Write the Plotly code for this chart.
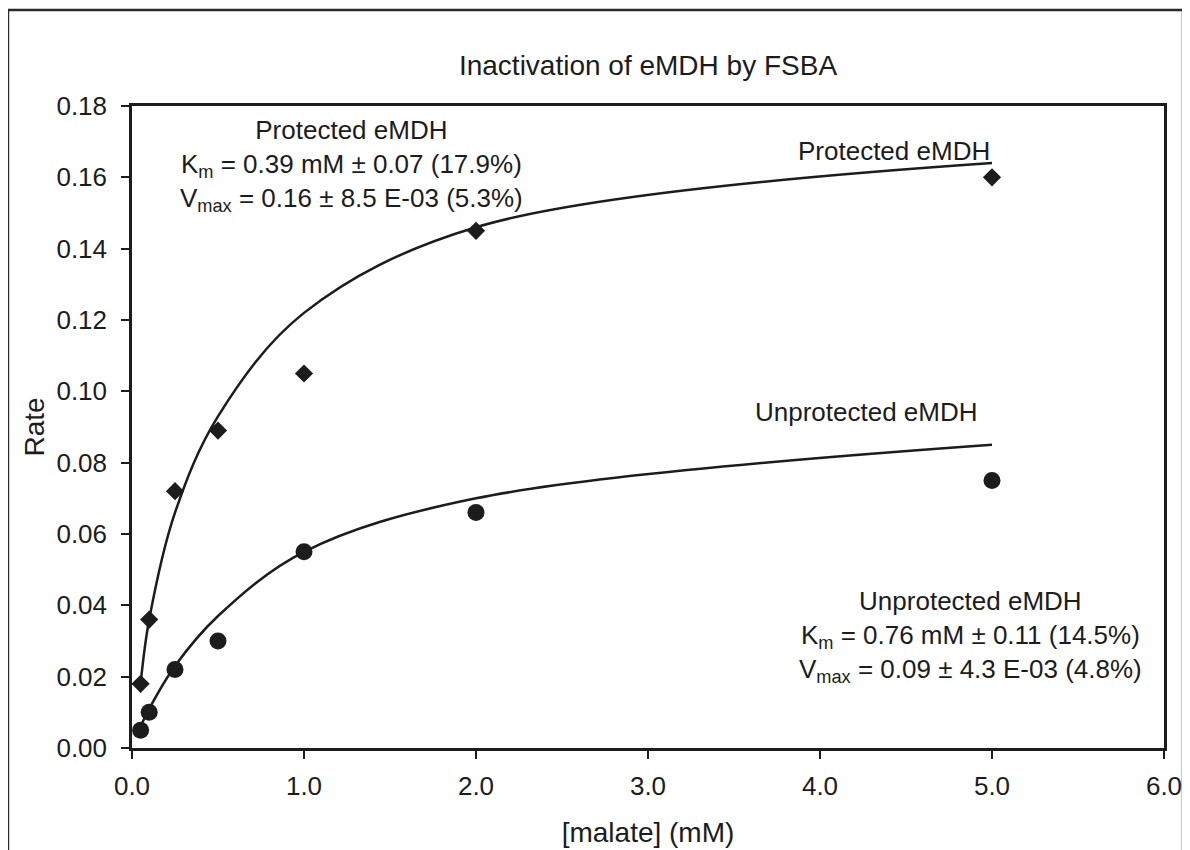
import plotly.graph_objects as go

# Data
malate = [0.05, 0.1, 0.25, 0.5, 1.0, 2.0, 5.0]
protected_rate = [0.018, 0.036, 0.072, 0.089, 0.105, 0.145, 0.160]
unprotected_rate = [0.005, 0.010, 0.022, 0.030, 0.055, 0.066, 0.075]
# fitted (Michaelis-Menten) curve values as drawn
protected_fit = [0.018, 0.036, 0.066, 0.093, 0.122, 0.146, 0.164]
unprotected_fit = [0.006, 0.011, 0.023, 0.037, 0.055, 0.070, 0.085]

x_ticks = [0, 1, 2, 3, 4, 5, 6]
y_ticks = [0.00, 0.02, 0.04, 0.06, 0.08, 0.10, 0.12, 0.14, 0.16, 0.18]

FONT = "Liberation Sans, Arial, sans-serif"
INK = "#1c1c1c"

fig = go.Figure()
fig.add_trace(go.Scatter(x=malate, y=protected_fit, mode="lines", line_shape="spline",
                         line=dict(color=INK, width=2.5), showlegend=False, name="Protected fit"))
fig.add_trace(go.Scatter(x=malate, y=unprotected_fit, mode="lines", line_shape="spline",
                         line=dict(color=INK, width=2.5), showlegend=False, name="Unprotected fit"))
fig.add_trace(go.Scatter(x=malate, y=protected_rate, mode="markers",
                         marker=dict(symbol="diamond", size=14, color=INK),
                         showlegend=False, name="Protected eMDH"))
fig.add_trace(go.Scatter(x=malate, y=unprotected_rate, mode="markers",
                         marker=dict(symbol="circle", size=17, color=INK),
                         showlegend=False, name="Unprotected eMDH"))

AFONT = dict(family=FONT, size=26, color=INK)
fig.add_annotation(x=1.279, y=0.1633, xref="x", yref="y",
                   text="Protected eMDH<br>K<sub>m</sub> = 0.39 mM ± 0.07 (17.9%)<br>V<sub>max</sub> = 0.16 ± 8.5 E-03 (5.3%)",
                   showarrow=False, align="center", font=AFONT)
fig.add_annotation(x=4.433, y=0.1674, xref="x", yref="y", text="Protected eMDH",
                   showarrow=False, font=AFONT)
fig.add_annotation(x=4.271, y=0.0942, xref="x", yref="y", text="Unprotected eMDH",
                   showarrow=False, font=AFONT)
fig.add_annotation(x=4.875, y=0.0313, xref="x", yref="y",
                   text="Unprotected eMDH<br>K<sub>m</sub> = 0.76 mM ± 0.11 (14.5%)<br>V<sub>max</sub> = 0.09 ± 4.3 E-03 (4.8%)",
                   showarrow=False, align="center", font=AFONT)

# outer frame of the figure
fig.add_shape(type="rect", xref="paper", yref="paper", x0=-0.1202, x1=1.0184, y0=-0.2, y1=1.1495,
              line=dict(color="#2a2a2a", width=2.5))

fig.update_layout(
    width=1182, height=842,
    margin=dict(l=124, r=26, t=98, b=102, autoexpand=False),
    paper_bgcolor="white", plot_bgcolor="white",
    font=dict(family=FONT, size=26, color=INK),
    title=dict(text="Inactivation of eMDH by FSBA", x=0.5, xanchor="center", xref="paper",
               y=1 - 57 / 842, yanchor="middle", font=dict(family=FONT, size=28, color=INK)),
)
fig.update_xaxes(range=[0, 6], tickvals=x_ticks, tickformat=".1f", showgrid=False, zeroline=False,
                 showline=True, linecolor=INK, linewidth=2.5, mirror=True, automargin=False,
                 ticks="outside", tickcolor=INK, ticklen=8, tickwidth=1.5, ticklabelstandoff=5,
                 ticklabeloverflow="allow",
                 tickfont=dict(family=FONT, size=26, color=INK),
                 title=dict(text="[malate] (mM)", standoff=23, font=dict(family=FONT, size=28, color=INK)))
fig.update_yaxes(range=[0, 0.18], tickvals=y_ticks, tickformat=".2f", showgrid=False, zeroline=False,
                 showline=True, linecolor=INK, linewidth=2.5, mirror=True, automargin=False,
                 ticks="outside", tickcolor=INK, ticklen=8, tickwidth=1.5, ticklabelstandoff=9,
                 ticklabeloverflow="allow",
                 tickfont=dict(family=FONT, size=26, color=INK),
                 title=dict(text="Rate", standoff=4, font=dict(family=FONT, size=28, color=INK)))

fig.write_html("out.html")
